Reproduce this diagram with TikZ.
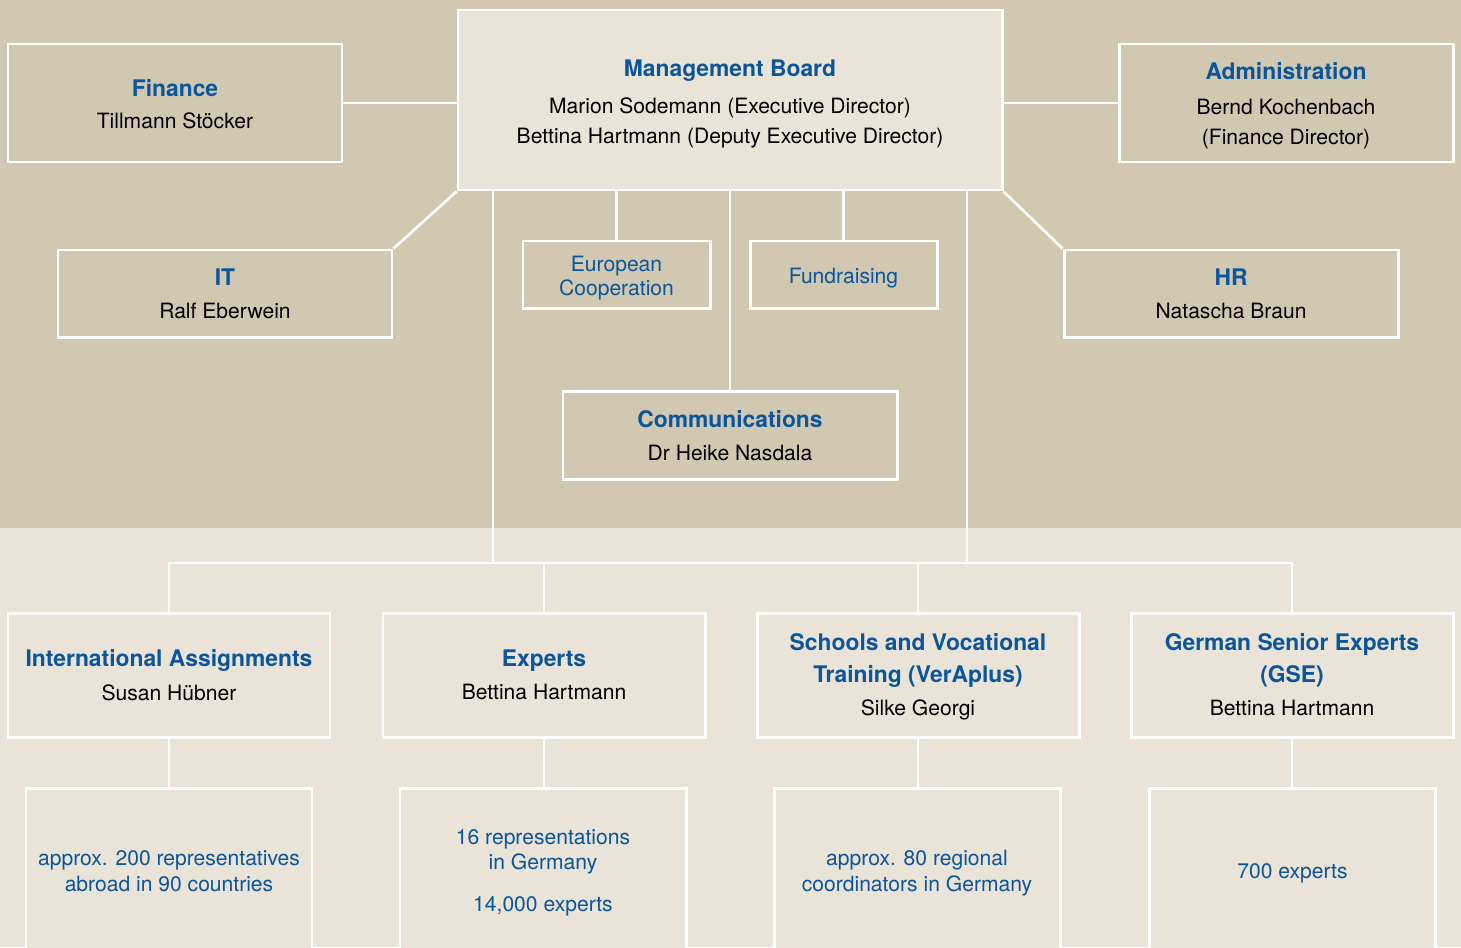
\documentclass[tikz,border=0pt]{standalone}
\usepackage{fontspec}
\setmainfont{TeX Gyre Heros}
\definecolor{bgup}{RGB}{209,200,177}
\definecolor{bglo}{RGB}{233,227,216}
\definecolor{gblue}{RGB}{11,85,155}
\newcommand\ttl[1]{{\fontsize{13}{17}\selectfont\bfseries\color{gblue}#1}}
\newcommand\up[1]{\rule{0pt}{#1}}
\begin{document}
\begin{tikzpicture}[x=0.02cm,y=-0.02cm,
  box/.style={draw=white, line width=1.7pt, fill=bgup, inner sep=0pt, align=center, text=black,
    font=\fontsize{12}{17}\selectfont},
  lbox/.style={box, fill=bglo},
  sbox/.style={box, text=gblue, font=\fontsize{12}{13.6}\selectfont},
  nbox/.style={lbox, text=gblue, font=\fontsize{12}{14.7}\selectfont},
  sz/.style 2 args={minimum width=#1*0.02cm, minimum height=#2*0.02cm},
  conn/.style={draw=white, line width=1.5pt}]
\useasboundingbox (0,0) rectangle (1461,947);
\fill[bgup] (0,0) rectangle (1461,528);
\fill[bglo] (0,528) rectangle (1461,947);
% top part
\node[lbox, sz={544}{180}] (mb) at (730,100) {\up{14.1pt}\ttl{Management Board}\\[4pt] Marion Sodemann (Executive Director)\\ Bettina Hartmann (Deputy Executive Director)};
\node[box, sz={334}{118}] (fin) at (175,103) {\up{10.8pt}\ttl{Finance}\\[1pt] Tillmann Stöcker};
\node[box, sz={334}{118}] (adm) at (1286,103) {\up{13pt}\ttl{Administration}\\[3pt] Bernd Kochenbach\\ (Finance Director)};
\node[box, sz={334}{87}] (it) at (225,293.5) {\up{10pt}\ttl{IT}\\[2pt] Ralf Eberwein};
\node[box, sz={334}{87}] (hr) at (1231,293.5) {\up{10pt}\ttl{HR}\\[2pt] Natascha Braun};
\node[sbox, sz={187}{67}] (eu) at (616.5,274.5) {\up{12.8pt}European\\Cooperation};
\node[sbox, sz={187}{67}] (fr) at (843.5,274.5) {\up{13.1pt}Fundraising};
\node[box, sz={334}{88}] (comm) at (730,435) {\up{10.7pt}\ttl{Communications}\\[2pt] Dr Heike Nasdala};
% departments
\node[lbox, sz={322}{124}] (ia) at (169,675) {\ttl{International Assignments}\\[2pt] Susan Hübner};
\node[lbox, sz={322}{124}] (exp) at (544,675) {\ttl{Experts}\\[2pt] Bettina Hartmann};
\node[lbox, sz={322}{124}] (sch) at (918,675) {\up{11.9pt}\ttl{Schools and Vocational}\\[1pt] \ttl{Training (VerAplus)}\\[2pt] Silke Georgi};
\node[lbox, sz={322}{124}] (gse) at (1292,675) {\ttl{German Senior Experts}\\[1pt] \ttl{(GSE)}\\[2pt] Bettina Hartmann};
% figures
\node[nbox, sz={286}{166}] (iab) at (169,871) {approx. 200 representatives\\ abroad in 90 countries};
\node[nbox, sz={286}{166}] (expb) at (543,871) {\up{10.3pt}16 representations\\ in Germany\\[9pt] 14,000 experts};
\node[nbox, sz={286}{166}] (schb) at (917,871) {\up{11.5pt}approx. 80 regional\\ coordinators in Germany};
\node[nbox, sz={286}{166}] (gseb) at (1292.5,871) {\up{10.9pt}700 experts};
% connectors
\draw[conn] (fin.east) -- (fin.east -| mb.west);
\draw[conn] (adm.west) -- (adm.west -| mb.east);
\draw[conn] (mb.south west) -- (it.north east);
\draw[conn] (mb.south east) -- (hr.north west);
\draw[conn] (eu.north) -- (eu.north |- mb.south);
\draw[conn] (fr.north) -- (fr.north |- mb.south);
\draw[conn] (comm.north) -- (mb.south);
\path (mb.south) ++(-237,0) coordinate (tl);
\path (mb.south) ++(237,0) coordinate (tr);
\coordinate (bus) at (169,563);
\draw[conn] (tl) -- (tl |- bus);
\draw[conn] (tr) -- (tr |- bus);
\draw[conn] (ia.north) |- (gse.north |- bus) -- (gse.north);
\draw[conn] (exp.north) -- (exp.north |- bus);
\draw[conn] (sch.north) -- (sch.north |- bus);
\draw[conn] (ia.south) -- (ia.south |- iab.north);
\draw[conn] (exp.south) -- (exp.south |- expb.north);
\draw[conn] (sch.south) -- (sch.south |- schb.north);
\draw[conn] (gse.south) -- (gse.south |- gseb.north);
\end{tikzpicture}
\end{document}
